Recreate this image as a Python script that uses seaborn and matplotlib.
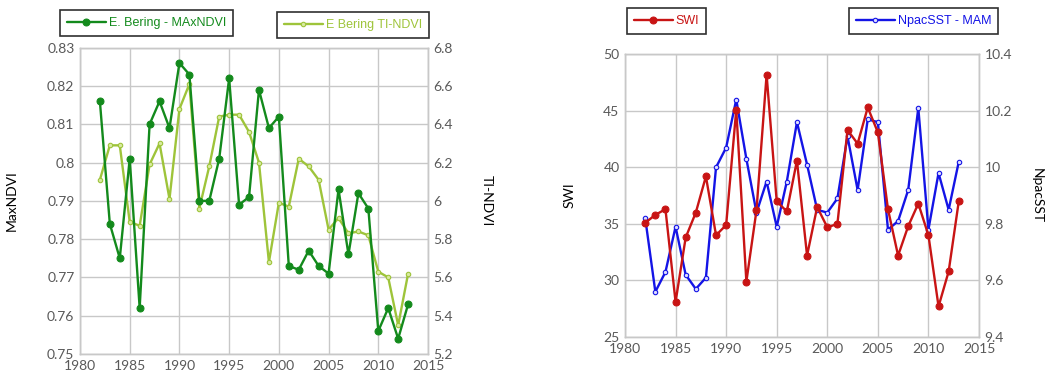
import matplotlib
matplotlib.use("Agg")
import matplotlib.pyplot as plt
import seaborn as sns
import numpy as np
from matplotlib.ticker import FuncFormatter, MultipleLocator

years = list(range(1982, 2014))

max_ndvi = [0.816, 0.784, 0.775, 0.801, 0.762, 0.810, 0.816, 0.809, 0.826, 0.823,
            0.790, 0.790, 0.801, 0.822, 0.789, 0.791, 0.819, 0.809, 0.812, 0.773,
            0.772, 0.777, 0.773, 0.771, 0.793, 0.776, 0.792, 0.788, 0.756, 0.762,
            0.754, 0.763]
ti_ndvi = [6.11, 6.29, 6.29, 5.89, 5.87, 6.19, 6.30, 6.01, 6.48, 6.61,
           5.96, 6.18, 6.44, 6.45, 6.45, 6.36, 6.20, 5.68, 5.99, 5.97,
           6.22, 6.18, 6.11, 5.85, 5.91, 5.83, 5.84, 5.82, 5.63, 5.60,
           5.35, 5.62]
swi = [35.1, 35.8, 36.3, 28.1, 33.8, 36.0, 39.2, 34.0, 34.9, 45.1,
       29.9, 36.2, 48.2, 37.0, 36.1, 40.6, 32.2, 36.5, 34.7, 35.0,
       43.3, 42.1, 45.3, 43.1, 36.3, 32.2, 34.8, 36.8, 34.0, 27.7,
       30.8, 37.0]
npac_sst = [9.82, 9.56, 9.63, 9.79, 9.62, 9.57, 9.61, 10.00, 10.07, 10.24,
            10.03, 9.84, 9.95, 9.79, 9.95, 10.16, 10.01, 9.85, 9.84, 9.89,
            10.11, 9.92, 10.17, 10.16, 9.78, 9.81, 9.92, 10.21, 9.78, 9.98,
            9.85, 10.02]

labels = {
    "maxndvi": "E. Bering - MAxNDVI",
    "tindvi": "E Bering TI-NDVI",
    "swi": "SWI",
    "sst": "NpacSST - MAM",
}

sns.set_theme(style="white")
plt.rcParams["font.family"] = ["Lato", "DejaVu Sans"]

C_DG = "#138a1c"
C_LG = "#9ec43a"
C_RED = "#c81414"
C_BLUE = "#1414e6"
GRID = "#c8c8c8"
TICKC = "#595959"

fig = plt.figure(figsize=(10.63, 3.76), dpi=100)

def fmt(v, pos):
    return f"{round(v, 3):g}"

def setup(ax, ax2, xlim, ylim, ystep, y2lim, y2step):
    ax.set_xlim(*xlim)
    ax.set_ylim(*ylim)
    ax2.set_ylim(*y2lim)
    ax.xaxis.set_major_locator(MultipleLocator(5))
    ax.yaxis.set_major_locator(MultipleLocator(ystep))
    ax2.yaxis.set_major_locator(MultipleLocator(y2step))
    ax.yaxis.set_major_formatter(FuncFormatter(fmt))
    ax2.yaxis.set_major_formatter(FuncFormatter(fmt))
    # primary axes on top, grid drawn on the secondary (lower) axes
    ax.set_zorder(ax2.get_zorder() + 1)
    ax.patch.set_visible(False)
    ax2.patch.set_visible(True)
    ax2.patch.set_facecolor("white")
    ax2.xaxis.set_visible(True)
    ax2.xaxis.set_major_locator(MultipleLocator(5))
    ax.grid(False)
    ax2.grid(True, color=GRID, linewidth=1.0)
    ax2.set_axisbelow(True)
    for a in (ax, ax2):
        for s in a.spines.values():
            s.set_color(GRID)
            s.set_linewidth(1.0)
        a.tick_params(length=0, labelsize=10, labelcolor=TICKC, pad=4)
    ax2.tick_params(axis="x", labelbottom=False, labeltop=False)
    ax.set_xlabel("")

# ---------- left chart ----------
axL = fig.add_axes([80/1063, 1-354/376, 348/1063, (354-47.7)/376])
axL2 = axL.twinx()
sns.lineplot(x=years, y=ti_ndvi, ax=axL2, color=C_LG, linewidth=1.7, marker="o",
             markersize=3.2, markerfacecolor="#d8eaa0", markeredgecolor=C_LG,
             markeredgewidth=0.8, label=labels["tindvi"], legend=False)
sns.lineplot(x=years, y=max_ndvi, ax=axL, color=C_DG, linewidth=1.7, marker="o",
             markersize=5, markeredgecolor=C_DG, label=labels["maxndvi"], legend=False)
setup(axL, axL2, (1980, 2015), (0.75, 0.83), 0.01, (5.2, 6.8), 0.2)
axL.set_ylabel("MaxNDVI", fontsize=10, color="black")
axL.yaxis.set_label_coords(-0.18, 0.5)
axL2.set_ylabel("TI-NDVI", fontsize=10, color="black", rotation=270)
axL2.yaxis.set_label_coords(1.185, 0.5)

# ---------- right chart ----------
axR = fig.add_axes([625/1063, 1-337/376, 354/1063, (337-54.3)/376])
axR2 = axR.twinx()
sns.lineplot(x=years, y=npac_sst, ax=axR2, color=C_BLUE, linewidth=1.7, marker="o",
             markersize=3.2, markerfacecolor="#dcdcff", markeredgecolor=C_BLUE,
             markeredgewidth=0.8, label=labels["sst"], legend=False)
sns.lineplot(x=years, y=swi, ax=axR, color=C_RED, linewidth=1.7, marker="o",
             markersize=5, markeredgecolor=C_RED, label=labels["swi"], legend=False)
setup(axR, axR2, (1980, 2015), (25, 50), 5, (9.4, 10.4), 0.2)
axR.set_ylabel("SWI", fontsize=10, color="black")
axR.yaxis.set_label_coords(-0.14, 0.5)
axR2.set_ylabel("NpacSST", fontsize=10, color="black", rotation=270)
axR2.yaxis.set_label_coords(1.18, 0.5)

# ---------- legends ----------
def add_leg(ax, anchor):
    h, l = ax.get_legend_handles_labels()
    leg = fig.legend(h, l, loc="upper left", bbox_to_anchor=anchor,
                     bbox_transform=fig.transFigure, frameon=True, fancybox=False,
                     edgecolor="#303030", framealpha=1,
                     handlelength=3.1, handletextpad=0.25, borderpad=0.55,
                     borderaxespad=0, labelcolor="linecolor",
                     prop={"family": ["Liberation Sans"], "size": 9})
    leg.get_frame().set_linewidth(1.2)
    return leg

add_leg(axL, (60/1063, 1-10/376))
add_leg(axL2, (277/1063, 1-12/376))
add_leg(axR, (627/1063, 1-8/376))
add_leg(axR2, (849/1063, 1-8/376))

fig.savefig("out.png", dpi=100)
